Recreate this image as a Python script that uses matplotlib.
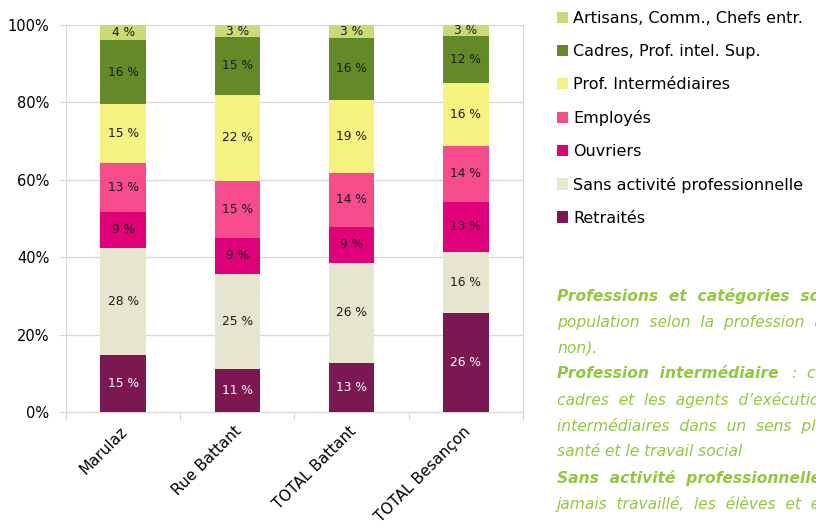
import numpy as np
import matplotlib
matplotlib.use("Agg")
import matplotlib.pyplot as plt
from matplotlib.patches import Patch
import matplotlib.ticker as ticker

plt.rcParams['font.family'] = ['DejaVu Sans']

# Données (% de la population)
quartiers = ['Marulaz', 'Rue Battant', 'TOTAL Battant', 'TOTAL Besançon']
categories = ['Retraités', 'Sans activité professionnelle', 'Ouvriers', 'Employés',
              'Prof. Intermédiaires', 'Cadres, Prof. intel. Sup.', 'Artisans, Comm., Chefs entr.']
retraites = [14.7, 11.0, 12.6, 25.6]
sans_activite = [27.8, 24.7, 26.0, 15.8]
ouvriers = [9.3, 9.3, 9.3, 12.9]
employes = [12.6, 14.8, 13.9, 14.4]
prof_inter = [15.2, 22.2, 18.9, 16.2]
cadres = [16.4, 14.9, 15.9, 12.3]
artisans = [4.0, 3.1, 3.4, 2.8]
couleurs = ['#7B1751', '#E6E6CF', '#E0007A', '#F64C8C', '#F5F380', '#648A28', '#CCD977']
y_ticks = [0, 20, 40, 60, 80, 100]

series = [retraites, sans_activite, ouvriers, employes, prof_inter, cadres, artisans]

fig = plt.figure(figsize=(8.16, 5.32), dpi=100)
ax = fig.add_axes([0.0809, 0.2256, 0.5600, 0.7274])

x = np.arange(len(quartiers))
bas = np.zeros(len(quartiers))
for serie, couleur, nom in zip(series, couleurs, categories):
    vals = np.array(serie)
    ax.bar(x, vals, bottom=bas, width=0.4, color=couleur, label=nom, zorder=3)
    for xi, b, v in zip(x, bas, vals):
        txt_col = 'white' if nom == 'Retraités' else '#1a1a1a'
        ax.text(xi, b + v / 2, f'{round(v)} %', ha='center', va='center',
                fontsize=8.8, color=txt_col, zorder=4)
    bas += vals

ax.set_xlim(-0.5, len(quartiers) - 0.5)
ax.set_ylim(0, 100)
ax.set_yticks(y_ticks)
ax.yaxis.set_major_formatter(ticker.FuncFormatter(lambda v, p: f'{int(v)}%'))
ax.grid(axis='y', color='#D9D9D9', linewidth=1, zorder=0)
ax.tick_params(axis='y', length=5, color='#D9D9D9', labelsize=10.5, pad=7)

ax.set_xticks(np.arange(-0.5, len(quartiers), 1.0))
ax.set_xticklabels([])
ax.tick_params(axis='x', length=6, color='#D9D9D9')
for xi, q in zip(x, quartiers):
    ax.text(xi - 0.03, -3, q, rotation=45, ha='right', va='top', rotation_mode='anchor',
            fontsize=11, transform=ax.transData)

for side in ['left', 'bottom', 'right']:
    ax.spines[side].set_color('#D9D9D9')
ax.spines['top'].set_visible(False)

handles = [Patch(facecolor=c, edgecolor='none') for c in couleurs]
fig.legend(handles[::-1], categories[::-1], loc='upper left',
           bbox_to_anchor=(546 / 816, 1 - 0 / 532), frameon=False, fontsize=11.5,
           handlelength=0.7, handleheight=0.7, handletextpad=0.3, labelspacing=1.12,
           borderpad=0.2)

vert = '#92C83E'
taille = 11.2
lignes = [
    ('Professions  et  catégories  socioprofessionnelles', 'bold'),
    ('population  selon  la  profession  actuelle', 'normal'),
    ('non).', 'normal'),
    (None, None),
    ('cadres  et  les  agents  d\u2019exécution', 'normal'),
    ('intermédiaires  dans  un  sens  plus', 'normal'),
    ('santé et le travail social', 'normal'),
    (None, None),
    ('jamais  travaillé,  les  élèves  et  étudiants', 'normal'),
]
y0 = 296
for i, (t, w) in enumerate(lignes):
    yy = 1 - (y0 + i * 26) / 532
    if t is not None:
        fig.text(557 / 816, yy, t, color=vert, style='italic', weight=w,
                 fontsize=taille, va='center')
fig.text(557 / 816, 1 - (y0 + 3 * 26) / 532, 'Profession  intermédiaire', color=vert,
         style='italic', weight='bold', fontsize=taille, va='center')
fig.text(792 / 816, 1 - (y0 + 3 * 26) / 532, ':  ceux', color=vert,
         style='italic', fontsize=taille, va='center')
fig.text(557 / 816, 1 - (y0 + 7 * 26) / 532, 'Sans  activité  professionnelle', color=vert,
         style='italic', weight='bold', fontsize=taille, va='center')

fig.savefig('out.png', dpi=100)
